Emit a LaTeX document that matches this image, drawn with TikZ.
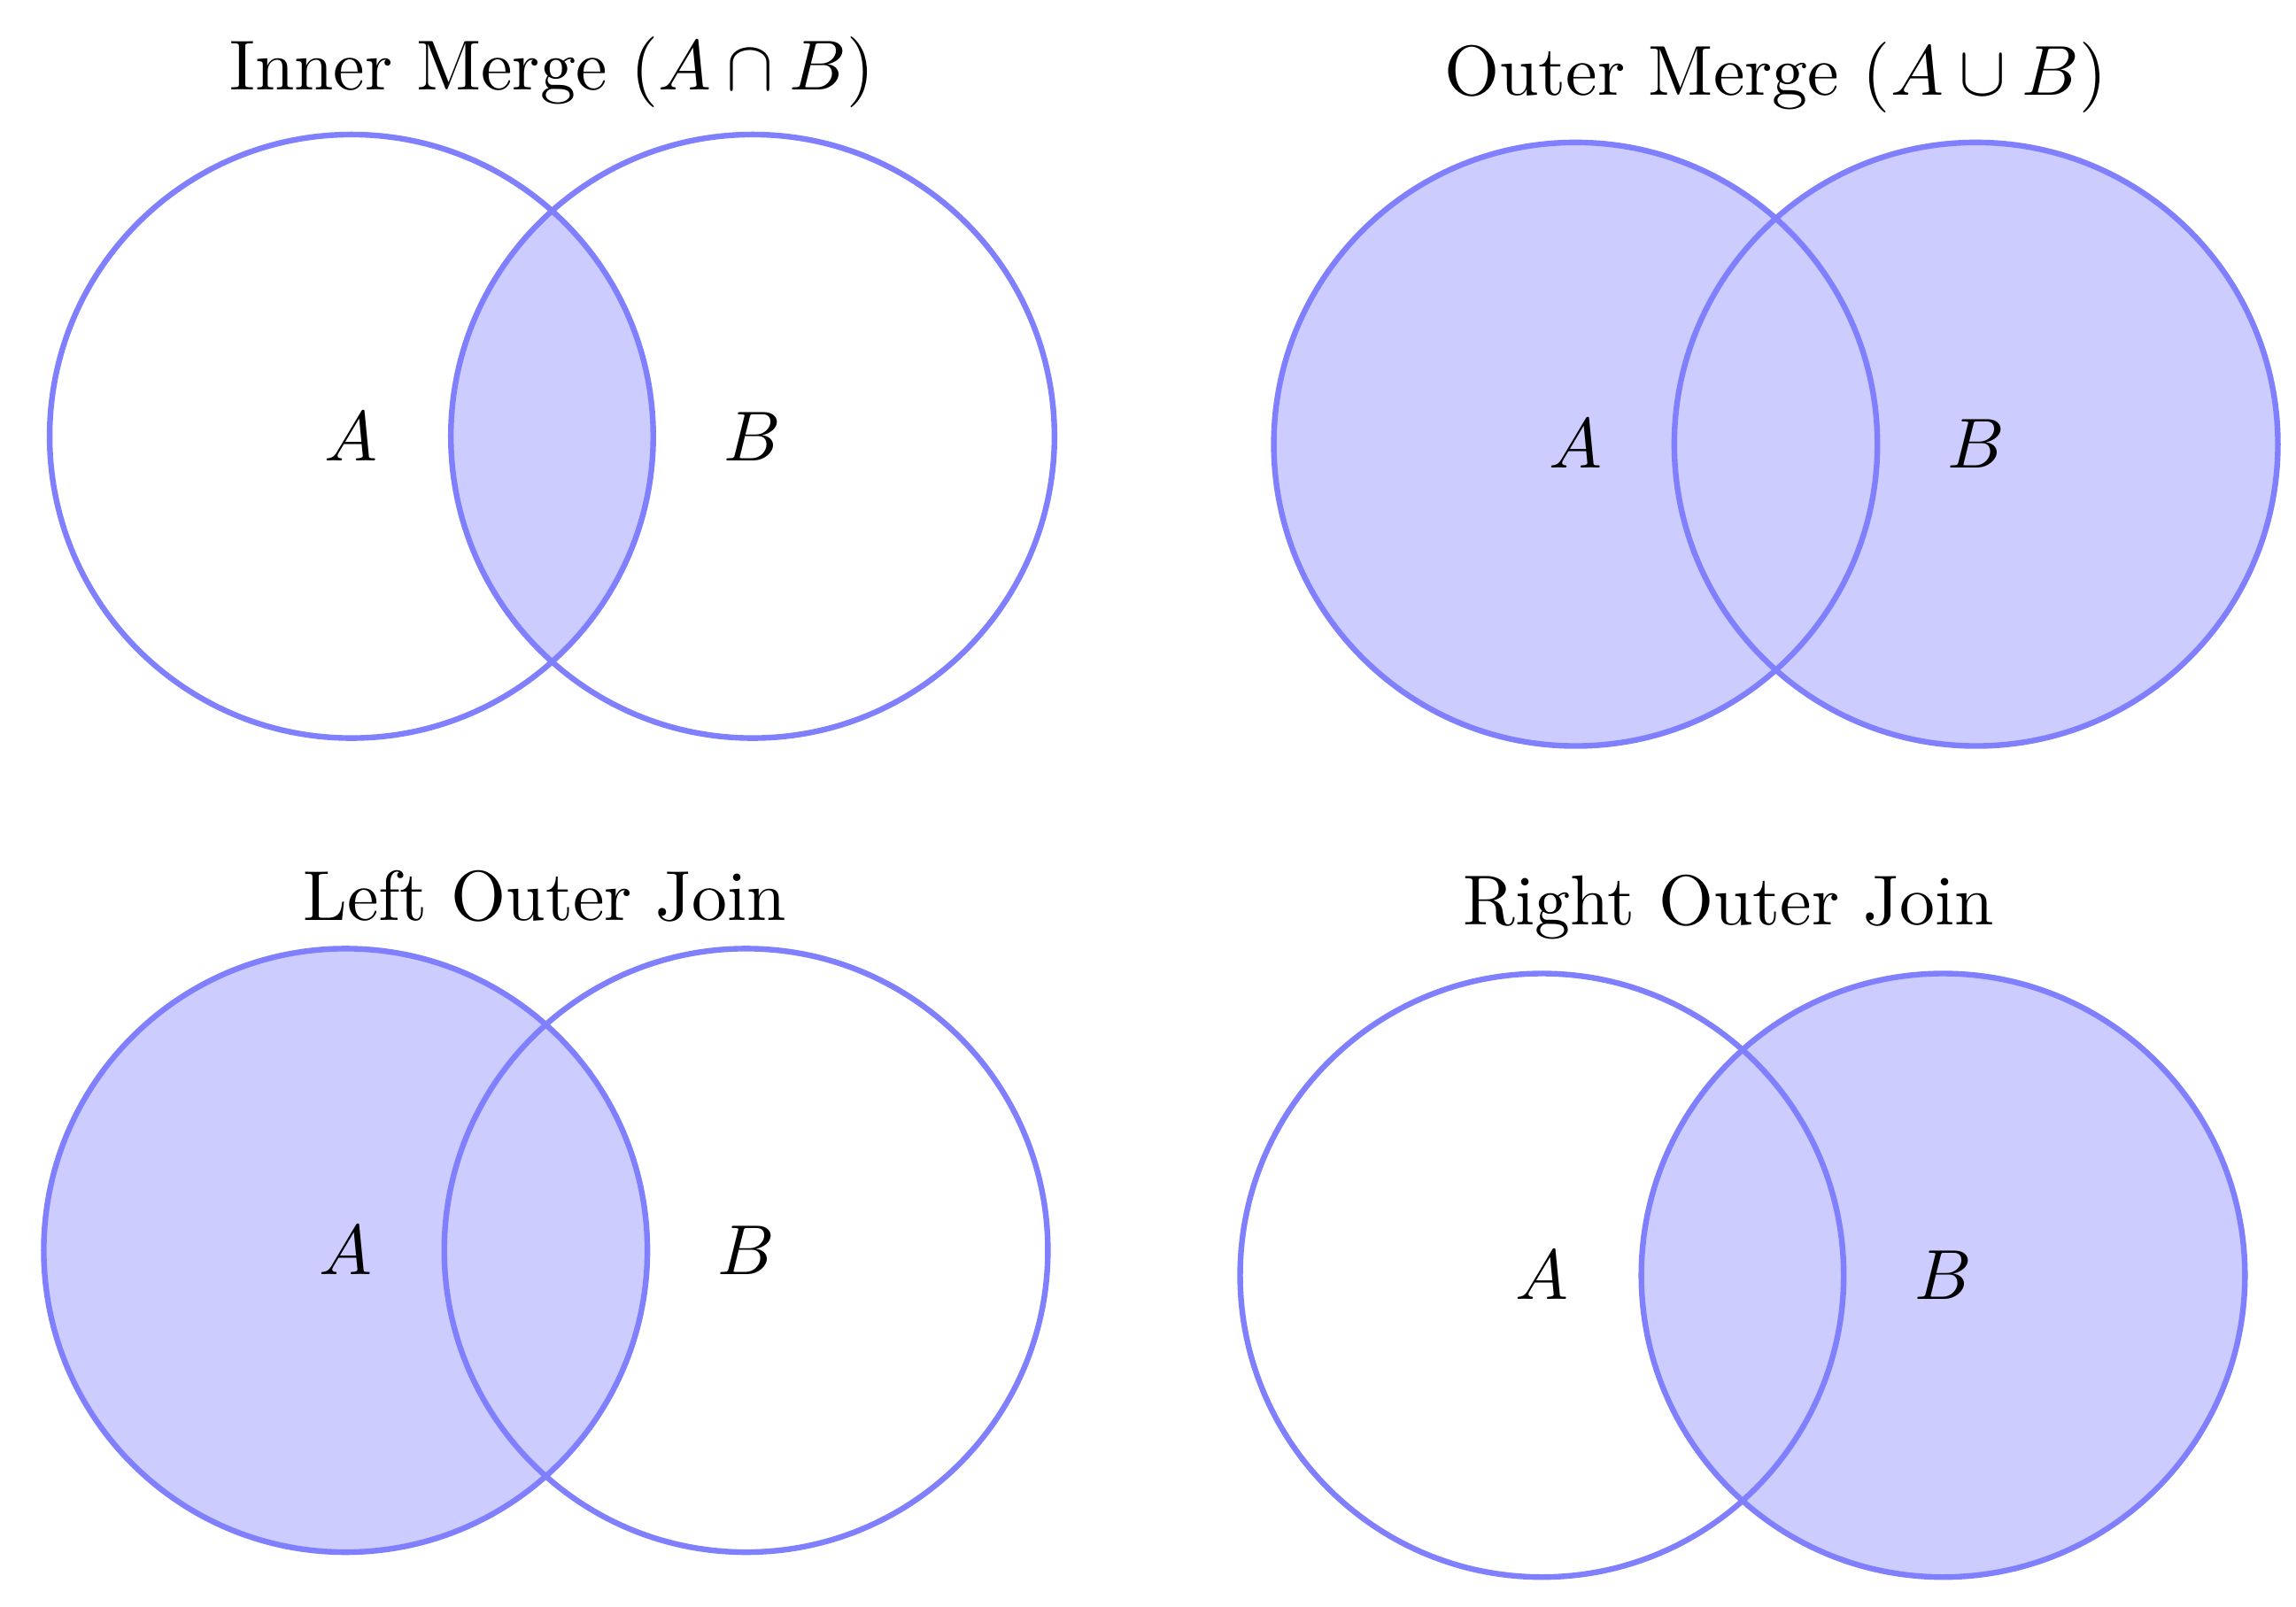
\documentclass[tikz,border=0pt]{standalone}
\begin{document}
\begin{tikzpicture}[x=0.007285cm,y=-0.007285cm,
  setline/.style={draw=blue!50, thick},
  setfill/.style={fill=blue!20},
  ttl/.style={anchor=base, inner sep=0pt},
  lbl/.style={inner sep=1pt}]
\useasboundingbox (0,0) rectangle (1568,1097);
\def\R{1.5cm}
% ---------- top left: inner merge
\coordinate (tlA) at (240,298);
\coordinate (tlB) at (514,298);
\begin{scope}
  \clip (tlA) circle[radius=\R];
  \fill[setfill] (tlB) circle[radius=\R];
\end{scope}
\draw[setline] (tlA) circle[radius=\R] (tlB) circle[radius=\R];
\node[ttl] (tlT) at (377,61.7) {Inner Merge ($A\cap B$)};
\node[lbl] (tlLA) at (tlA) {$A$};
\node[lbl] (tlLB) at (tlB) {$B$};
% ---------- top right: outer merge
\coordinate (trA) at (1076,303.4);
\coordinate (trB) at (1349.5,303.4);
\fill[setfill] (trA) circle[radius=\R] (trB) circle[radius=\R];
\draw[setline] (trA) circle[radius=\R] (trB) circle[radius=\R];
\node[ttl] (trT) at (1212.5,65.3) {Outer Merge ($A\cup B$)};
\node[lbl] (trLA) at (trA) {$A$};
\node[lbl] (trLB) at (trB) {$B$};
% ---------- bottom left: left outer join
\coordinate (blA) at (236,854);
\coordinate (blB) at (509.5,854);
\fill[setfill] (blA) circle[radius=\R];
\draw[setline] (blA) circle[radius=\R] (blB) circle[radius=\R];
\node[ttl] (blT) at (372,628.3) {Left Outer Join};
\node[lbl] (blLA) at (blA) {$A$};
\node[lbl] (blLB) at (blB) {$B$};
% ---------- bottom right: right outer join
\coordinate (brA) at (1053,871);
\coordinate (brB) at (1327,871);
\fill[setfill] (brB) circle[radius=\R];
\draw[setline] (brA) circle[radius=\R] (brB) circle[radius=\R];
\node[ttl] (brT) at (1180.5,631.9) {Right Outer Join};
\node[lbl] (brLA) at (brA) {$A$};
\node[lbl] (brLB) at (brB) {$B$};
\end{tikzpicture}
\end{document}
